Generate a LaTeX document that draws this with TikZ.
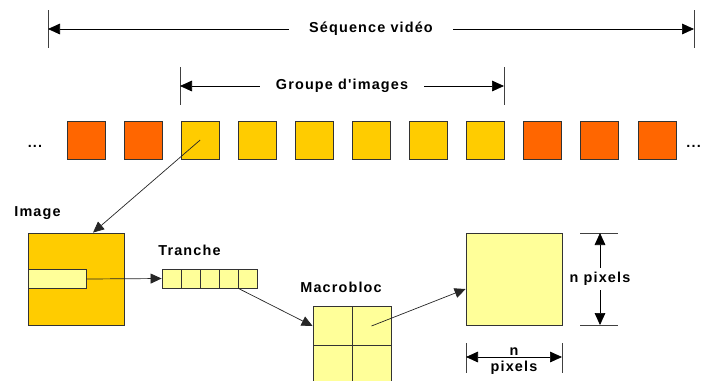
\documentclass[tikz,border=0pt]{standalone}
\usepackage{fontspec}
\setmainfont{Liberation Sans}
\newfontfamily\etiqfont[LetterSpace=8]{Liberation Sans}
\usetikzlibrary{arrows.meta,calc}

\definecolor{orangeimg}{HTML}{FF6600}
\definecolor{jauneimg}{HTML}{FFCC00}
\definecolor{pale}{HTML}{FFFF99}

\tikzset{
  etiq/.style={font=\etiqfont\bfseries\fontsize{12.3pt}{14pt}\selectfont},
  img/.style={draw=black!80, line width=0.7pt, minimum size=1.14cm, inner sep=0pt},
  cell/.style={draw=black!80, line width=0.7pt, fill=pale, minimum size=0.57cm, inner sep=0pt},
  fleche/.style={-{Triangle[length=3.3mm,width=3mm]}, black!85, line width=0.6pt},
  cote/.style={{Triangle[length=3.6mm,width=3.2mm]}-{Triangle[length=3.6mm,width=3.2mm]}, line width=0.6pt},
  repere/.style={line width=0.6pt, black!75}
}

\begin{document}
\begin{tikzpicture}[x=0.03cm, y=-0.03cm]
  \useasboundingbox (0,0) rectangle (701,380);
  \clip (0,0) rectangle (701,380);

  % sequence of frames
  \foreach \i/\c in {0/orangeimg,1/orangeimg,2/jauneimg,3/jauneimg,4/jauneimg,5/jauneimg,6/jauneimg,7/jauneimg,8/orangeimg,9/orangeimg,10/orangeimg} {
    \node[img, fill=\c] (f\i) at ({86+57.1*\i},140) {};
  }
  \node[etiq, anchor=base] (pts-g) at (35,147) {...};
  \node[etiq, anchor=base east, inner xsep=0pt] (pts-d) at (701,147) {...};

  % dimension lines on top
  \coordinate (sg) at (48,29);
  \coordinate (sd) at (694,29);
  \draw[repere] ([yshift=0.57cm]sg) -- ([yshift=-0.57cm]sg);
  \draw[repere] ([yshift=0.57cm]sd) -- ([yshift=-0.57cm]sd);
  \draw[cote] (sg) -- (sd) node[midway, fill=white, inner xsep=0.6cm, etiq] (sequence) {Séquence vidéo};

  \coordinate (gg) at (180,86);
  \coordinate (gd) at (504,86);
  \draw[repere] ([yshift=0.57cm]gg) -- ([yshift=-0.57cm]gg);
  \draw[repere] ([yshift=0.57cm]gd) -- ([yshift=-0.57cm]gd);
  \draw[cote] (gg) -- (gd) node[midway, fill=white, inner xsep=0.48cm, etiq] (groupe) {Groupe d'images};

  % image, slice, macroblock
  \node[draw=black!80, line width=0.7pt, fill=jauneimg, minimum width=2.88cm, minimum height=2.76cm, inner sep=0pt] (image) at (76,279) {};
  \node[cell, minimum width=1.74cm, anchor=west] (bande) at (image.west) {};
  \node[etiq] (lab-image) at (37.5,213) {Image};

  \foreach \k in {0,...,4} {
    \node[cell] (t\k) at ({171.5+19*\k},278.5) {};
  }
  \node[etiq] (lab-tranche) at (189.5,250) {Tranche};

  \foreach \i in {0,1} {
    \foreach \j in {0,1} {
      \node[cell, minimum size=1.17cm] (m\i\j) at ({332.5+39*\i},{326+39*\j}) {};
    }
  }
  \node[etiq] (lab-macro) at (341,287) {Macrobloc};

  \node[draw=black!80, line width=0.7pt, fill=pale, minimum width=2.88cm, minimum height=2.76cm, inner sep=0pt] (pixels) at (514,279) {};

  % connectors
  \draw[fleche] (f2.center) -- ([xshift=0.51cm]image.north);
  \draw[fleche] (bande.east) -- (t0.west);
  \draw[fleche] (t3.south east) -- (m00.west);
  \draw[fleche] (m10.center) -- ([yshift=-0.3cm]pixels.west);

  % size of the macroblock
  \coordinate (hh) at (600,233);
  \coordinate (hb) at (600,325);
  \draw[repere] ([xshift=-0.6cm]hh) -- ([xshift=0.54cm]hh);
  \draw[repere] ([xshift=-0.6cm]hb) -- ([xshift=0.54cm]hb);
  \draw[cote] (hh) -- (hb) node[midway, fill=white, inner xsep=1pt, etiq] (hauteur) {n pixels};

  \coordinate (lg) at (466,357);
  \coordinate (ld) at (562,357);
  \draw[repere] ([yshift=0.42cm]lg) -- ([yshift=-0.48cm]lg);
  \draw[repere] ([yshift=0.42cm]ld) -- ([yshift=-0.48cm]ld);
  \draw[cote] (lg) -- (ld)
    node[midway, above=-2pt, etiq] (largeur-n) {n}
    node[midway, below=0pt, etiq] (largeur-px) {pixels};
\end{tikzpicture}
\end{document}
